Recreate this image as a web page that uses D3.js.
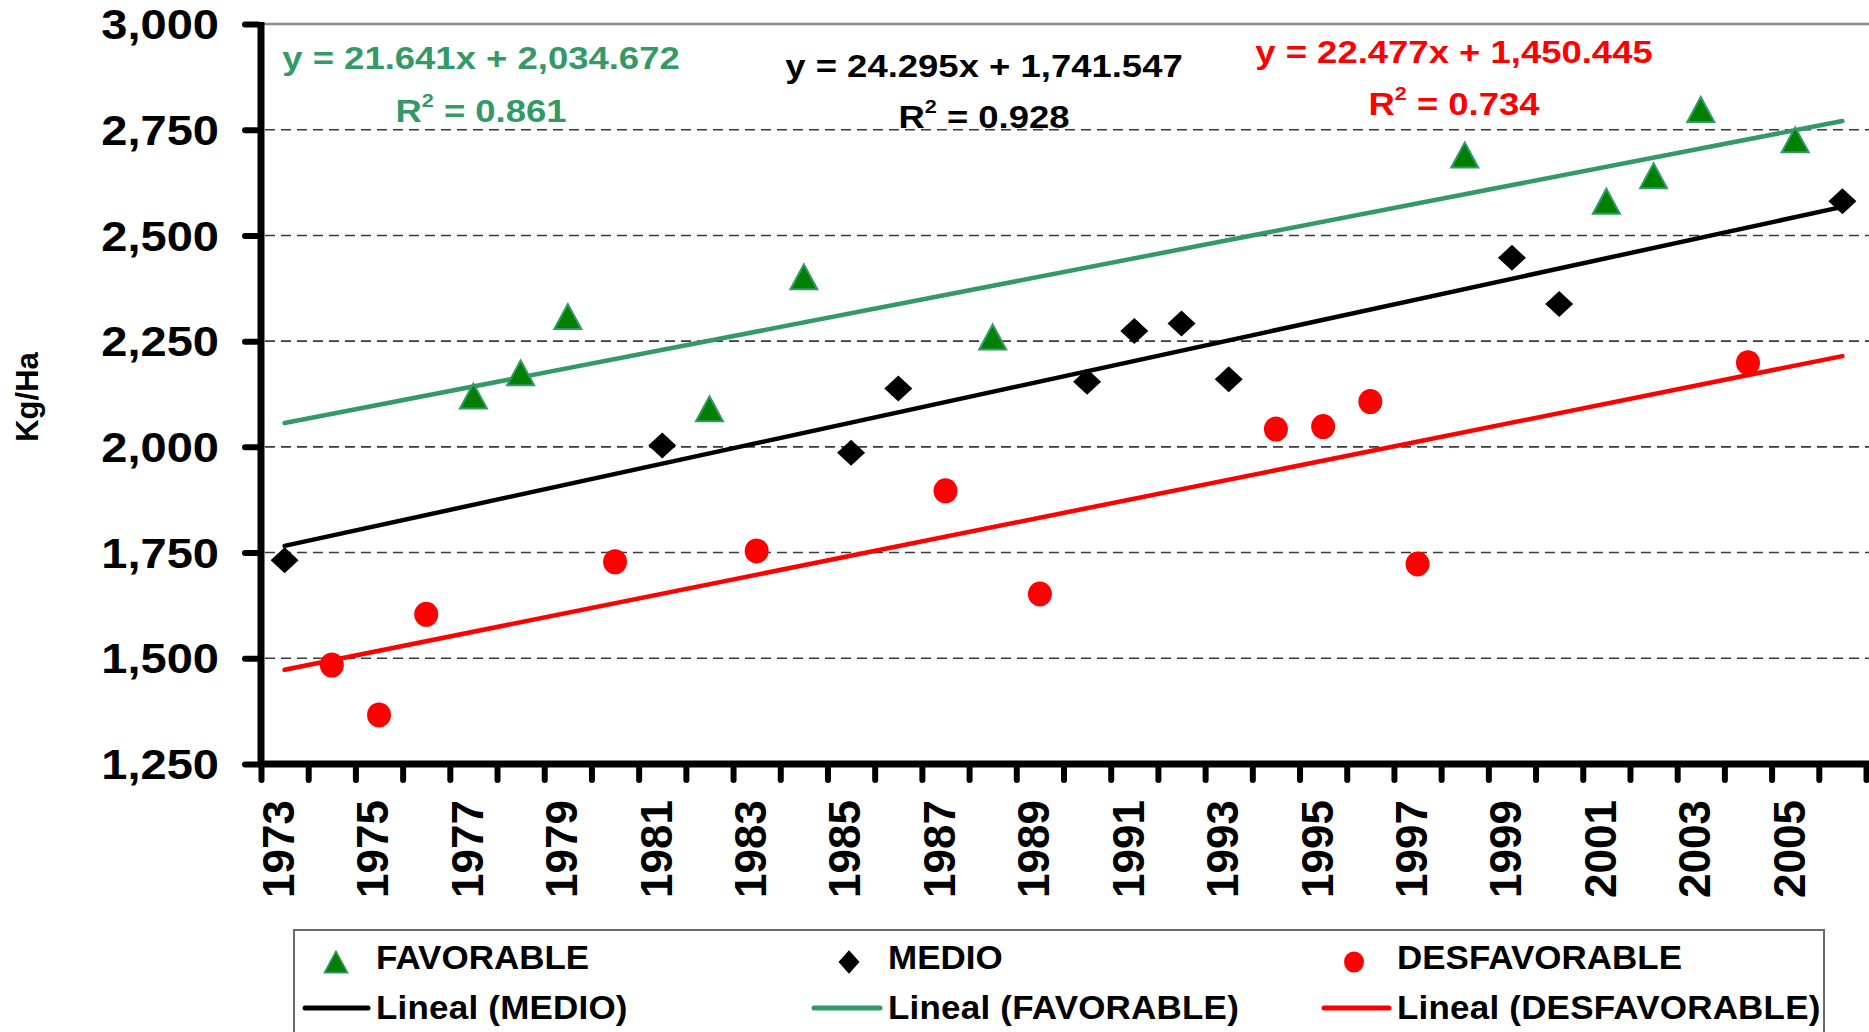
<!DOCTYPE html>
<html>
<head>
<meta charset="utf-8">
<script src="https://cdn.jsdelivr.net/npm/d3@7"></script>
<style>
  html, body { margin: 0; padding: 0; background: #ffffff; }
  svg { display: block; font-family: "Liberation Sans", Arial, Helvetica, sans-serif; font-weight: bold; }
</style>
</head>
<body>
<svg id="chart" width="1869" height="1032"></svg>
<script>
// ---------- DATA ----------
const years = d3.range(1973, 2007);               // categories 1973..2006
const xTickLabels = years.filter(y => y % 2 === 1); // 1973, 1975, ... 2005
const yTicks = [1250, 1500, 1750, 2000, 2250, 2500, 2750, 3000];

const favorableYears  = [1977, 1978, 1979, 1982, 1984, 1988, 1998, 2001, 2002, 2003, 2005];
const favorableValues = [2120, 2175, 2308, 2090, 2402, 2260, 2690, 2581, 2641, 2798, 2726];

const medioYears  = [1973, 1981, 1985, 1986, 1990, 1991, 1992, 1993, 1999, 2000, 2006];
const medioValues = [1732, 2003, 1986, 2138, 2154, 2274, 2292, 2160, 2447, 2338, 2581];

const desfavYears  = [1974, 1975, 1976, 1980, 1983, 1987, 1989, 1994, 1995, 1996, 1997, 2004];
const desfavValues = [1484, 1366, 1604, 1728, 1754, 1896, 1652, 2042, 2048, 2107, 1723, 2199];

// trend line coefficients as printed on the chart (x = category index 1..34)
const trendNames      = ["MEDIO", "FAVORABLE", "DESFAVORABLE"];
const trendSlopes     = [24.295, 21.641, 22.477];
const trendIntercepts = [1741.547, 2034.672, 1450.445];
const trendR2         = ["0.928", "0.861", "0.734"];
const trendEqText     = ["y = 24.295x + 1,741.547", "y = 21.641x + 2,034.672", "y = 22.477x + 1,450.445"];

const legendRow1 = ["FAVORABLE", "MEDIO", "DESFAVORABLE"];
const legendRow2 = ["Lineal (MEDIO)", "Lineal (FAVORABLE)", "Lineal (DESFAVORABLE)"];

// ---------- STYLE ----------
const GREEN_LINE = "#339966";
const GREEN_FILL = "#008000";
const RED = "#FF0000";
const colorOf = { MEDIO: "#000000", FAVORABLE: GREEN_LINE, DESFAVORABLE: RED };

const svg = d3.select("#chart");
const X0 = 261, X1 = 1866, Y0 = 764, Y1 = 24;

const x = d3.scaleBand().domain(years).range([X0, X1]).paddingInner(0).paddingOuter(0);
const xb = d3.scaleLinear().domain([0, years.length]).range([X0, X1]); // category boundaries
const y = d3.scaleLinear().domain([1250, 3000]).range([Y0, Y1]);
const cx = yr => x(yr) + x.bandwidth() / 2;

// ---------- GRID ----------
svg.append("g").selectAll("line")
  .data(yTicks.filter(v => v > 1250 && v < 3000))
  .join("line")
  .attr("x1", X0 + 4).attr("x2", 1869)
  .attr("y1", d => y(d)).attr("y2", d => y(d))
  .attr("stroke", "#3a3a3a").attr("stroke-width", 1.6)
  .attr("stroke-dasharray", "10,6");

// top border of plot area
svg.append("line")
  .attr("x1", X0).attr("x2", 1869)
  .attr("y1", y(3000)).attr("y2", y(3000))
  .attr("stroke", "#8a8a8a").attr("stroke-width", 2.5);

// ---------- TREND LINES ----------
const trendG = svg.append("g");
trendNames.forEach((name, i) => {
  const pts = [years[0], years[years.length - 1]].map(yr => {
    const idx = years.indexOf(yr) + 1;
    return [cx(yr), y(trendSlopes[i] * idx + trendIntercepts[i])];
  });
  trendG.append("path")
    .attr("d", d3.line()(pts))
    .attr("fill", "none")
    .attr("stroke", colorOf[name])
    .attr("stroke-width", 4.5)
    .attr("stroke-linecap", "round");
});

// ---------- MARKERS ----------
const triangleType = {
  draw(ctx, size) {
    const w = 13.5, h = 12.5;
    ctx.moveTo(0, -h); ctx.lineTo(w, h); ctx.lineTo(-w, h); ctx.closePath();
  }
};
const diamondType = {
  draw(ctx, size) {
    const w = 14, h = 13;
    ctx.moveTo(0, -h); ctx.lineTo(w, 0); ctx.lineTo(0, h); ctx.lineTo(-w, 0); ctx.closePath();
  }
};

svg.append("g").selectAll("path")
  .data(favorableYears.map((yr, i) => ({ yr, v: favorableValues[i] })))
  .join("path")
  .attr("d", d3.symbol().type(triangleType))
  .attr("transform", d => `translate(${cx(d.yr)},${y(d.v)})`)
  .attr("fill", GREEN_FILL).attr("stroke", GREEN_LINE).attr("stroke-width", 2);

svg.append("g").selectAll("path")
  .data(medioYears.map((yr, i) => ({ yr, v: medioValues[i] })))
  .join("path")
  .attr("d", d3.symbol().type(diamondType))
  .attr("transform", d => `translate(${cx(d.yr)},${y(d.v)})`)
  .attr("fill", "#000");

svg.append("g").selectAll("ellipse")
  .data(desfavYears.map((yr, i) => ({ yr, v: desfavValues[i] })))
  .join("ellipse")
  .attr("cx", d => cx(d.yr)).attr("cy", d => y(d.v))
  .attr("rx", 12).attr("ry", 12.5)
  .attr("fill", RED);

// ---------- AXES ----------
const yAxis = svg.append("g")
  .attr("transform", `translate(${X0},0)`)
  .call(d3.axisLeft(y).tickValues(yTicks).tickSize(16).tickSizeOuter(0).tickFormat(d3.format(",")));
yAxis.select(".domain").remove();
yAxis.selectAll(".tick line").attr("stroke", "#000").attr("stroke-width", 6).attr("stroke-linecap", "round")
  .attr("x1", -3);
yAxis.selectAll(".tick text")
  .attr("x", 0).attr("dy", "0.35em")
  .attr("transform", "translate(-42,0) scale(1.12,1)")
  .attr("font-size", 42).attr("font-weight", "bold")
  .attr("font-family", "'Liberation Sans', Arial, sans-serif")
  .attr("fill", "#000");

const xAxis = svg.append("g")
  .attr("transform", `translate(0,${Y0})`)
  .call(d3.axisBottom(xb).tickValues(d3.range(0, years.length + 1)).tickSize(16).tickSizeOuter(0).tickFormat(""));
xAxis.select(".domain").remove();
xAxis.selectAll(".tick line").attr("stroke", "#000").attr("stroke-width", 6).attr("stroke-linecap", "round")
  .attr("y1", 3);

// axis lines
svg.append("line").attr("x1", X0).attr("x2", X0).attr("y1", Y1 - 2).attr("y2", Y0 + 3)
  .attr("stroke", "#000").attr("stroke-width", 7);
svg.append("line").attr("x1", X0 - 3).attr("x2", 1869).attr("y1", Y0).attr("y2", Y0)
  .attr("stroke", "#000").attr("stroke-width", 7);

// x tick labels (odd years), rotated
svg.append("g").selectAll("text")
  .data(xTickLabels)
  .join("text")
  .attr("transform", d => `translate(${cx(d) - 6},800) rotate(-90)`)
  .attr("text-anchor", "end")
  .attr("dy", "0.35em")
  .attr("font-size", 44)
  .attr("fill", "#000")
  .text(d => d);

// y axis title
svg.append("text")
  .attr("transform", "translate(27,397) rotate(-90)")
  .attr("text-anchor", "middle")
  .attr("dy", "0.35em")
  .attr("font-size", 31)
  .attr("fill", "#000")
  .text("Kg/Ha");

// ---------- EQUATIONS ----------
const eqPos = [
  { cx: 984, eqY: 77, r2Y: 128 },   // MEDIO
  { cx: 481, eqY: 69, r2Y: 122 },   // FAVORABLE
  { cx: 1454, eqY: 63, r2Y: 115 }   // DESFAVORABLE
];
trendNames.forEach((name, i) => {
  const p = eqPos[i];
  svg.append("text")
    .attr("transform", `translate(${p.cx},${p.eqY}) scale(1.14,1)`)
    .attr("text-anchor", "middle")
    .attr("font-size", 32)
    .attr("fill", colorOf[name])
    .text(trendEqText[i]);
  const t = svg.append("text")
    .attr("transform", `translate(${p.cx},${p.r2Y}) scale(1.14,1)`)
    .attr("text-anchor", "middle")
    .attr("font-size", 32)
    .attr("fill", colorOf[name]);
  t.append("tspan").text("R");
  t.append("tspan").attr("font-size", 19).attr("dy", -15).text("2");
  t.append("tspan").attr("dy", 15).text(" = " + trendR2[i]);
});

// ---------- LEGEND ----------
const lg = svg.append("g");
lg.append("rect")
  .attr("x", 294).attr("y", 930).attr("width", 1530).attr("height", 130)
  .attr("fill", "#fff").attr("stroke", "#6a6a6a").attr("stroke-width", 2);

const colMarkerX = [336, 849, 1354];
const colTextX = [376, 888, 1397];
const colLineX = [[305, 368], [814, 880], [1324, 1389]];
const row1Y = 962, row2Y = 1008;

// row 1 markers
lg.append("path").attr("d", d3.symbol().type(triangleType))
  .attr("transform", `translate(${colMarkerX[0]},${row1Y}) scale(0.85)`)
  .attr("fill", GREEN_FILL).attr("stroke", GREEN_LINE).attr("stroke-width", 2);
lg.append("path").attr("d", d3.symbol().type(diamondType))
  .attr("transform", `translate(${colMarkerX[1]},${row1Y}) scale(0.75,0.9)`)
  .attr("fill", "#000");
lg.append("ellipse").attr("cx", colMarkerX[2]).attr("cy", row1Y).attr("rx", 10).attr("ry", 10.5).attr("fill", RED);

lg.selectAll("text.r1").data(legendRow1).join("text").attr("class", "r1")
  .attr("transform", (d, i) => `translate(${colTextX[i]},969) scale(1.06,1)`)
  .attr("font-size", 33).attr("fill", "#000").text(d => d);

// row 2 lines
const row2Colors = [colorOf.MEDIO, colorOf.FAVORABLE, colorOf.DESFAVORABLE];
lg.selectAll("line.r2").data(legendRow2).join("line").attr("class", "r2")
  .attr("x1", (d, i) => colLineX[i][0]).attr("x2", (d, i) => colLineX[i][1])
  .attr("y1", row2Y).attr("y2", row2Y)
  .attr("stroke", (d, i) => row2Colors[i]).attr("stroke-width", 5).attr("stroke-linecap", "round");
lg.selectAll("text.r2").data(legendRow2).join("text").attr("class", "r2")
  .attr("transform", (d, i) => `translate(${colTextX[i]},1019) scale(1.06,1)`)
  .attr("letter-spacing", 0.2)
  .attr("font-size", 33).attr("fill", "#000").text(d => d);
</script>
</body>
</html>
